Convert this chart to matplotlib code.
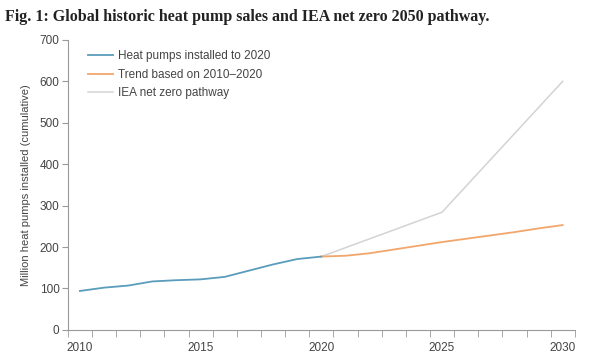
import matplotlib.pyplot as plt
from matplotlib.ticker import FixedLocator

# data
years_hist = [2010, 2011, 2012, 2013, 2014, 2015, 2016, 2017, 2018, 2019, 2020]
installed = [94, 102, 107, 117, 120, 122, 128, 143, 158, 171, 177]

years_trend = [2020, 2021, 2022, 2023, 2024, 2025, 2026, 2027, 2028, 2029, 2030]
trend = [177, 179, 185, 194, 203, 212, 220, 228, 236, 245, 253]

years_iea = [2020, 2025, 2030]
iea = [177, 284, 600]

x_labels = [2010, 2015, 2020, 2025, 2030]
y_ticks = [0, 100, 200, 300, 400, 500, 600, 700]

plt.rcParams['font.family'] = ['Liberation Sans', 'DejaVu Sans']

fig = plt.figure(figsize=(6, 3.59), dpi=100)
ax = fig.add_axes([0.113, 0.081, 0.845, 0.808])

ax.plot(years_iea, iea, color='#d3d3d3', lw=1.1, label='IEA net zero pathway', zorder=1)
ax.plot(years_trend, trend, color='#f2a66c', lw=1.3, label='Trend based on 2010\u20132020', zorder=2)
ax.plot(years_hist, installed, color='#5a9cbc', lw=1.3, label='Heat pumps installed to 2020', zorder=3)

ax.set_xlim(2009.5, 2030.5)
ax.set_ylim(0, 700)
ax.set_yticks(y_ticks)
ax.set_xticks(x_labels)
ax.xaxis.set_minor_locator(FixedLocator([y + 0.5 for y in range(2009, 2031)]))
ax.tick_params(axis='x', which='major', length=0, pad=9, labelsize=8.5, colors='#444444')
ax.tick_params(axis='x', which='minor', length=5, color='#999999')
ax.tick_params(axis='y', length=4, color='#999999', labelsize=8.5, labelcolor='#444444', pad=2)

for s in ['top', 'right']:
    ax.spines[s].set_visible(False)
for s in ['left', 'bottom']:
    ax.spines[s].set_color('#999999')
    ax.spines[s].set_linewidth(0.8)

ax.set_ylabel('Million heat pumps installed (cumulative)', fontsize=8, color='#444444', labelpad=6)

h, l = ax.get_legend_handles_labels()
leg = ax.legend(h[::-1], l[::-1], loc='upper left', bbox_to_anchor=(0.03, 0.98),
                frameon=False, fontsize=8.5, handlelength=2.1, handletextpad=0.5,
                labelspacing=0.55, borderaxespad=0)
for t in leg.get_texts():
    t.set_color('#444444')

fig.text(0.008, 0.953, 'Fig. 1: Global historic heat pump sales and IEA net zero 2050 pathway.',
         fontsize=11.5, fontweight='bold', family='Liberation Serif', color='#222222',
         va='center', ha='left')

fig.savefig('out.png', dpi=100)
